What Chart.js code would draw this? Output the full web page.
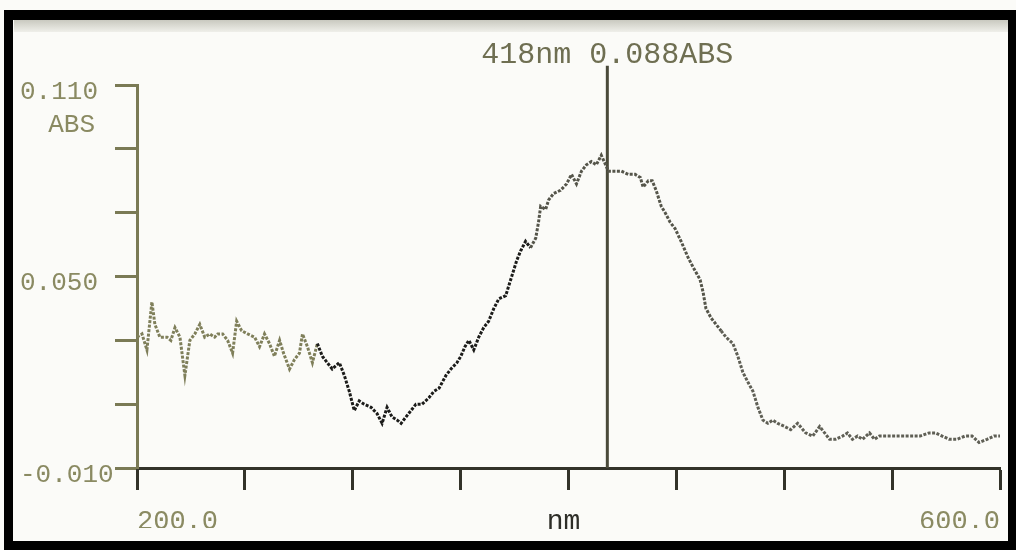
<!DOCTYPE html>
<html>
<head>
<meta charset="utf-8">
<script src="https://cdn.jsdelivr.net/npm/chart.js@4.4.1/dist/chart.umd.min.js"></script>
<style>
  html, body { margin: 0; padding: 0; background: #ffffff; }
  #wrap { position: relative; width: 1016px; height: 550px; overflow: hidden; background: #fbfbf8; }
  #frameTop { position: absolute; left: 4px; top: 10px; width: 1012px; height: 10px; background: #000; }
  #frameNoise { position: absolute; left: 14px; top: 20px; width: 1002px; height: 12px; background: linear-gradient(#c9c9c0, #efefea); }
  #frameLeft { position: absolute; left: 4px; top: 10px; width: 9px; height: 540px; background: #000; }
  #frameBottom { position: absolute; left: 4px; top: 541px; width: 1012px; height: 9px; background: #000; }
  #frameRight { position: absolute; left: 1008px; top: 10px; width: 8px; height: 540px; background: #000; }
  canvas { position: absolute; left: 0; top: 0; }
</style>
</head>
<body>
<div id="wrap">
  <canvas id="c" width="1016" height="550"></canvas>
  <div id="frameNoise"></div>
  <div id="frameTop"></div>
  <div id="frameLeft"></div>
  <div id="frameBottom"></div>
  <div id="frameRight"></div>
</div>
<script>
// ---- Data ----
const wavelengthNm = [
  200,202.3,204.6,206.9,208.3,210.6,213.9,215.7,217.6,219.9,
  222.2,224.5,226.8,229.1,231.4,233.7,236.0,237.4,239.7,242.0,
  244.3,246.2,248.5,251.3,254.5,256.8,259.1,261.4,263.7,266.1,
  267.9,270.7,273.0,275.3,276.7,279.0,281.3,283.6,285.9,288.2,
  290.5,293.8,296.1,298.4,300.7,303.0,305.3,308.5,311.3,313.6,
  315.9,318.2,320.6,322.4,324.7,327.0,329.3,332.1,335.3,337.6,
  340.0,343.2,345.5,348.3,350.1,352.0,353.8,356.1,358.4,360.7,
  363.0,365.4,367.7,370.9,373.2,374.6,376.0,377.8,380.1,382.4,
  384.8,386.1,387.1,389.4,390.8,393.1,396.3,399.1,401.4,403.7,
  406.0,408.3,410.6,412.9,415.2,418.5,421.7,424.5,427.7,430.9,
  433.3,434.6,437.0,438.8,440.6,443.0,444.8,447.1,449.4,452.2,
  455.4,457.7,461.0,462.4,463.7,466.1,468.4,470.7,473.0,476.2,
  478.5,480.8,483.1,485.5,487.8,490.1,492.4,494.7,497.0,500.2,
  503.0,506.2,509.9,513.2,516.4,518.7,521.0,523.8,527.0,529.3,
  531.6,534.0,536.3,539.5,541.8,544.1,546.9,550.1,553.3,556.1,
  559.4,563.0,567.2,570.0,573.2,576.4,580.1,583.8,587.1,590.3,
  594.0,597.2,600.0
];
const absorbance = [
  0.031,0.032,0.027,0.042,0.035,0.031,0.031,0.030,0.034,0.031,
  0.019,0.030,0.032,0.035,0.031,0.032,0.031,0.032,0.032,0.030,
  0.026,0.036,0.033,0.032,0.031,0.028,0.032,0.029,0.025,0.030,
  0.026,0.021,0.024,0.026,0.032,0.028,0.023,0.029,0.025,0.023,
  0.021,0.023,0.019,0.014,0.008,0.011,0.010,0.009,0.007,0.004,
  0.009,0.006,0.005,0.004,0.006,0.008,0.010,0.010,0.012,0.014,
  0.015,0.019,0.021,0.023,0.025,0.028,0.030,0.027,0.031,0.034,
  0.036,0.040,0.043,0.044,0.049,0.052,0.055,0.058,0.061,0.059,
  0.062,0.067,0.072,0.071,0.074,0.076,0.077,0.079,0.082,0.079,
  0.083,0.085,0.086,0.085,0.088,0.083,0.083,0.083,0.082,0.082,
  0.081,0.078,0.080,0.080,0.077,0.072,0.070,0.067,0.065,0.061,
  0.056,0.053,0.049,0.045,0.040,0.037,0.035,0.033,0.031,0.029,
  0.025,0.020,0.017,0.014,0.009,0.005,0.004,0.005,0.004,0.003,
  0.002,0.004,0.001,0.000,0.003,0.001,-0.001,-0.001,0.000,0.001,
  -0.001,0.000,-0.001,0.001,-0.001,0.000,0.000,0.000,0.000,0.000,
  0.000,0.000,0.001,0.001,0.000,-0.001,-0.001,0.000,0.000,-0.002,
  -0.001,0.000,0.000
];
const cursorNm = 418;
const cursorAbs = 0.088;
const cursorTopAbs = 0.116;
const xTickValues = [200,250,300,350,400,450,500,550,600];
const xTickLabels = ['200.0','','','','','','','','600.0'];
const yTickValues = [-0.010,0.010,0.030,0.050,0.070,0.090,0.110];
const yTickLabels = ['-0.010','','','0.050','','','0.110'];
const yUnit = 'ABS';
const xUnit = 'nm';

// ---- Chart ----
const TEXT = '#8a8a62';
const AXIS_Y = '#7a7a55';
const AXIS_X = '#33332a';
const FONT = 'Liberation Mono';

const spectrum = wavelengthNm.map((x, i) => ({ x, y: absorbance[i] }));
const cursorLine = [{ x: cursorNm, y: yTickValues[0] }, { x: cursorNm, y: cursorTopAbs }];

function segColor(ctx) {
  const x = ctx.p0.parsed.x;
  if (x < 282) return '#7f7f5a';
  if (x < 382) return '#1c1c1a';
  if (x < 470) return '#55554a';
  return '#5f5f55';
}

const textPlugin = {
  id: 'screenText',
  afterDraw(chart) {
    const { ctx, chartArea, scales } = chart;
    ctx.save();
    ctx.font = '30px "' + FONT + '"';
    ctx.fillStyle = '#6f6f52';
    ctx.textAlign = 'center';
    ctx.textBaseline = 'middle';
    const cx = scales.x.getPixelForValue(cursorNm);
    ctx.fillText(cursorNm + 'nm ' + cursorAbs.toFixed(3) + yUnit, cx, 55);
    ctx.font = '26px "' + FONT + '"';
    ctx.fillStyle = TEXT;
    ctx.textAlign = 'right';
    ctx.fillText(yUnit, 95, scales.y.getPixelForValue(0.110) + 40);
    ctx.textAlign = 'center';
    ctx.font = '28px "' + FONT + '"';
    ctx.fillStyle = '#2e2e28';
    ctx.fillText(xUnit, (chartArea.left + chartArea.right) / 2 - 5, 522);
    ctx.restore();
  }
};

new Chart(document.getElementById('c'), {
  type: 'scatter',
  data: {
    datasets: [
      {
        data: spectrum,
        showLine: true,
        pointRadius: 0,
        borderWidth: 3,
        borderDash: [3, 1.5],
        borderColor: '#55554a',
        segment: { borderColor: segColor },
        tension: 0
      },
      {
        data: cursorLine,
        showLine: true,
        pointRadius: 0,
        borderWidth: 3,
        borderColor: '#4a4a3a',
        clip: false
      }
    ]
  },
  options: {
    responsive: false,
    animation: false,
    devicePixelRatio: 1,
    layout: { padding: { left: 20, right: 13, top: 85, bottom: 22 } },
    plugins: { legend: { display: false }, tooltip: { enabled: false }, title: { display: false } },
    scales: {
      x: {
        type: 'linear',
        min: 200, max: 600,
        afterBuildTicks(s) { s.ticks = xTickValues.map(v => ({ value: v })); },
        afterFit(s) { s.height = 60; },
        grid: { drawOnChartArea: false, drawTicks: true, tickLength: 22, tickColor: AXIS_X, tickWidth: 3 },
        border: { display: true, color: AXIS_X, width: 3, dash: [3, 1] },
        ticks: {
          autoSkip: false, maxRotation: 0, align: 'inner', padding: 16,
          color: TEXT, font: { family: FONT, size: 27 },
          callback(v, i) { return xTickLabels[i]; }
        }
      },
      y: {
        type: 'linear',
        min: -0.010, max: 0.110,
        afterBuildTicks(s) { s.ticks = yTickValues.map(v => ({ value: v })); },
        afterFit(s) { s.width = 117; },
        grid: { drawOnChartArea: false, drawTicks: true, tickLength: 22, tickColor: AXIS_Y, tickWidth: 3 },
        border: { display: true, color: AXIS_Y, width: 3, dash: [3, 1] },
        ticks: {
          crossAlign: 'far', labelOffset: 7, padding: 12,
          color: TEXT, font: { family: FONT, size: 26 },
          callback(v, i) { return yTickLabels[i]; }
        }
      }
    }
  },
  plugins: [textPlugin]
});
</script>
</body>
</html>
